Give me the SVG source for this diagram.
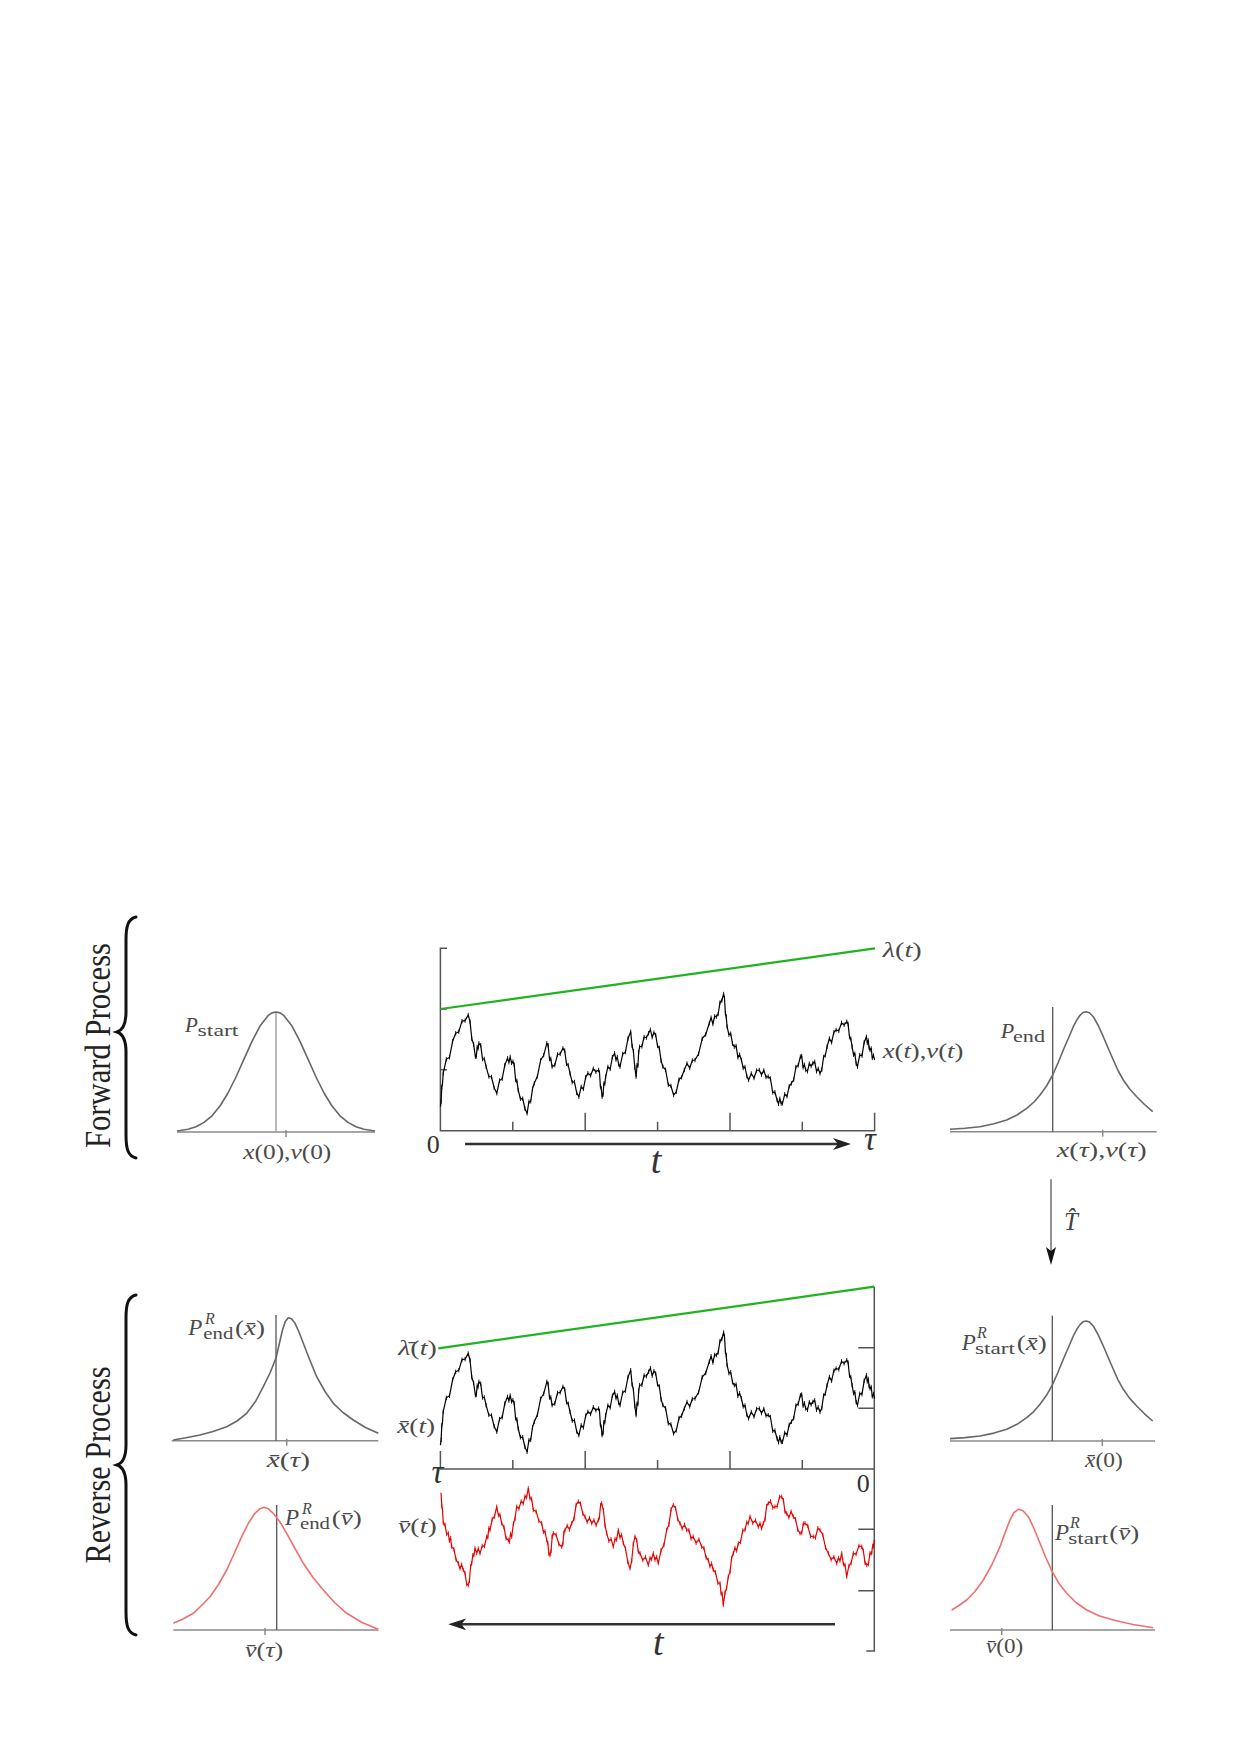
<svg xmlns="http://www.w3.org/2000/svg" width="1240" height="1754" viewBox="0 0 1240 1754">
<style>
.lab{font-family:"Liberation Serif","DejaVu Serif",serif;fill:#4a4a4a;font-size:21px}
.m{font-size:22px}
.pp{font-size:23px}
.i{font-style:italic}
.sub{font-size:17px}
.sup{font-size:16px;font-style:italic}
.big{font-family:"Liberation Serif","DejaVu Serif",serif;fill:#222;font-size:35px}
.num{font-family:"Liberation Serif","DejaVu Serif",serif;fill:#333;font-size:26px}
.tt{font-family:"Liberation Serif","DejaVu Serif",serif;fill:#333;font-size:38px;font-style:italic}
.tau{font-family:"Liberation Serif","DejaVu Serif",serif;fill:#333;font-size:33px;font-style:italic}
.that{font-family:"Liberation Serif","DejaVu Serif",serif;fill:#444;font-size:25px;font-style:italic}
.axis{fill:none;stroke:#555;stroke-width:1.5}
.base{fill:none;stroke:#8a8a8a;stroke-width:1.5}
.vl{fill:none;stroke:#555;stroke-width:1.3}
.dist{fill:none;stroke:#676767;stroke-width:1.6;stroke-linejoin:round}
.distr{fill:none;stroke:#f07070;stroke-width:1.6;stroke-linejoin:round}
.green{fill:none;stroke:#1fb41f;stroke-width:2.2}
.bm{fill:none;stroke:#000;stroke-width:1.2;stroke-linejoin:round;marker-mid:url(#hair)}
.bmr{fill:none;stroke:#e60000;stroke-width:1.2;stroke-linejoin:round;marker-mid:url(#hairr)}
.brace{fill:none;stroke:#111;stroke-width:3;stroke-linecap:round}
.arr{fill:none;stroke:#333;stroke-width:2.5}
</style>
<defs>
<marker id="ah" viewBox="0 0 18 12" refX="13" refY="6" markerWidth="18" markerHeight="12" markerUnits="userSpaceOnUse" orient="auto"><path d="M0 0 L18 6 L0 12 L5 6 Z" fill="#222"/></marker>
<marker id="ah2" viewBox="0 0 18 10" refX="13" refY="5" markerWidth="18" markerHeight="10" markerUnits="userSpaceOnUse" orient="auto"><path d="M0 0 L18 5 L0 10 L4 5 Z" fill="#111"/></marker>
<marker id="hair" viewBox="-2 -4 4 8" refX="0" refY="0" markerWidth="4" markerHeight="8" markerUnits="userSpaceOnUse" orient="0"><line x1="0" y1="-2.2" x2="0" y2="2.2" stroke="#000" stroke-width="0.9"/></marker>
<marker id="hairr" viewBox="-2 -4 4 8" refX="0" refY="0" markerWidth="4" markerHeight="8" markerUnits="userSpaceOnUse" orient="0"><line x1="0" y1="-2.2" x2="0" y2="2.2" stroke="#e60000" stroke-width="0.9"/></marker>
<path id="xpath" class="bm" d="M440.4 1106.7 L441.1 1101.4 441.8 1087 442.5 1083.7 443.2 1073.3 446.3 1059.3 449.5 1057.3 452.6 1041.3 455.7 1033.3 458.8 1031.7 462 1021.2 465.1 1020.6 468.2 1015 470 1021.4 471.8 1038.9 473.6 1044.3 475.4 1056.7 476.3 1056.4 477.2 1047 478 1048.7 478.9 1043.3 480.7 1045.2 482.5 1059 484.3 1058.9 486.1 1066.7 488.8 1076.4 491.5 1077 494.1 1087.7 496.8 1093.3 499.5 1080.6 502.2 1078.8 504.8 1065.1 507.5 1058.3 508.9 1062.2 510.2 1057 511.5 1062.9 512.9 1061.7 514.2 1064.8 515.6 1079.9 516.9 1080.9 518.2 1090 520.4 1098.8 522.7 1098.7 524.9 1108.5 527.1 1113.3 528.9 1101.8 530.7 1101.3 532.5 1088.8 534.3 1083.3 537.4 1076.3 540.6 1060.3 543.7 1055.3 546.8 1043.3 548.1 1045.2 549.5 1059 550.8 1058.9 552.1 1066.7 554.8 1065.1 557.5 1054.5 560.2 1053.9 562.9 1048.3 564.7 1050.6 566.5 1063.8 568.2 1065.1 570 1073.3 572.2 1082.2 574.5 1082 576.7 1092.9 578.9 1096.7 581.2 1086.9 583.4 1089 585.7 1077.2 587.9 1073.3 590.6 1075.5 593.3 1068.7 595.9 1071.8 598.6 1070 599.5 1072.7 600.4 1086.4 601.2 1088 602.1 1096.7 603 1094.7 603.9 1083.7 604.8 1083.7 605.7 1076.7 607.9 1066.9 610.2 1069 612.4 1057.2 614.6 1053.3 616 1059.7 617.3 1057 618.7 1064.4 620 1066.7 622.7 1054 625.4 1052.2 628 1038.5 630.7 1031.7 632.1 1046 633.4 1051.2 634.8 1067.5 636.1 1076.7 637 1065.2 637.9 1065.7 638.7 1052.2 639.6 1046.7 641.9 1046.4 644.1 1037 646.4 1037.7 648.6 1033.3 650.4 1029.7 652.2 1037.2 653.9 1032.6 655.7 1035 657.5 1045.9 659.3 1047.9 661.1 1060.8 662.9 1066.7 665.6 1069.8 668.3 1084.9 670.9 1085.9 673.6 1095 676.3 1091.8 679 1079.5 681.6 1077.3 684.3 1070 687 1063.5 689.7 1068 692.3 1060.5 695 1060 698.6 1053.8 702.2 1038.7 705.7 1034.5 709.3 1023.3 711.1 1017.7 712.9 1024 714.6 1016.4 716.4 1016.7 718.2 1014 720 1002.4 721.8 1000.7 723.6 994 724.5 998.2 725.4 1013.4 726.2 1016.5 727.1 1026.7 728.9 1034.7 730.7 1033.7 732.5 1043.7 734.3 1046.7 736.1 1046 737.9 1057.4 739.6 1054.7 741.4 1060 743.2 1068 745 1067 746.8 1076 748.6 1080 751.3 1073.5 754 1078 756.6 1070.5 759.3 1070 761.5 1074.7 763.8 1070.4 766 1077 768.2 1076.7 770.4 1078.5 772.7 1092.4 774.9 1092.2 777.1 1100 778.5 1103.8 779.8 1098.7 781.2 1103.5 782.5 1103.3 784.7 1094.3 787 1096.3 789.2 1086.3 791.4 1083.3 793.7 1079.7 795.9 1067 798.2 1065.4 800.4 1056.7 801.7 1056 803.1 1067.4 804.4 1064.7 805.7 1070 807.5 1071.3 809.3 1063.7 811.1 1066 812.9 1063.3 814.7 1061.8 816.5 1071.3 818.2 1068.8 820 1073.3 821.8 1069.7 823.6 1057 825.3 1055.4 827.1 1046.7 829.4 1038.5 831.6 1042.4 833.9 1032.2 836.1 1030 838.8 1030.9 841.5 1022.9 844.1 1024.8 846.8 1021.7 848.1 1024 849.5 1037.2 850.8 1038.5 852.1 1046.7 853.5 1054.7 854.8 1053.7 856.2 1063.7 857.5 1066.7 859.7 1055.2 862 1055.7 864.2 1042.2 866.4 1036.7 867.3 1043 868.2 1040.4 869.1 1047.7 870 1050 871.2 1048.5 872.3 1058 873.5 1055.5 874.6 1060"/>
<polyline id="skew" class="dist" points="950,1129.3 965,1128.3 980,1126.7 994,1123.8 1006.7,1120 1017,1115 1026.7,1108.3 1034,1102 1040,1095 1046.5,1086 1052.7,1075 1058,1063 1063.3,1050 1068.5,1038 1073.3,1026.7 1076.8,1020 1080,1015.3 1083,1012.5 1086,1011.7 1089.5,1012.8 1093.3,1016.7 1098,1025 1103.3,1036.7 1108.3,1048.5 1113.3,1060 1118,1070.5 1123.3,1080 1129.5,1088.8 1136.7,1096.7 1144.5,1104.5 1152.7,1111.7"/>
</defs>
<rect width="1240" height="1754" fill="#fff"/>

<g id="forward-label">
<path class="brace" d="M136 917 C128 919 126 926 126 940 L126 1012 C126 1024 123 1030 117 1032 C123 1034 126 1040 126 1052 L126 1135 C126 1149 128 1156 136 1158"/>
<text class="big" transform="translate(110,1045.5) rotate(-90)" text-anchor="middle" textLength="205" lengthAdjust="spacingAndGlyphs">Forward Process</text>
</g>

<g id="reverse-label">
<path class="brace" d="M136 1295 C128 1297 126 1304 126 1318 L126 1445 C126 1457 123 1463 117 1465 C123 1467 126 1473 126 1485 L126 1612 C126 1626 128 1633 136 1635"/>
<text class="big" transform="translate(110,1465) rotate(-90)" text-anchor="middle" textLength="197" lengthAdjust="spacingAndGlyphs">Reverse Process</text>
</g>

<g id="p-start">
<line class="base" x1="177" y1="1132" x2="375" y2="1132"/>
<line class="base" x1="286" y1="1130" x2="286" y2="1137"/>
<line x1="276" y1="1011.7" x2="276" y2="1132" stroke="#a8a8a8" stroke-width="1.6"/>
<polyline class="dist" points="177,1131 188,1129.3 196,1126.7 204,1122.4 212,1115.8 220,1106 228,1093 236,1077 244,1059.2 252,1041.4 260,1026.1 268,1015.7 272,1012.9 276,1012 280,1012.9 284,1015.7 292,1026.1 300,1041.4 308,1059.2 316,1077 324,1093 332,1106 340,1115.8 348,1122.4 356,1126.7 364,1129.3 375,1131"/>
<text class="lab i" x="185" y="1032">P</text>
<text class="lab sub" x="197.5" y="1035.5" textLength="41" lengthAdjust="spacingAndGlyphs">start</text>
<text class="lab m" x="243.3" y="1159" textLength="88" lengthAdjust="spacingAndGlyphs"><tspan class="i">x</tspan>(0),<tspan class="i">v</tspan>(0)</text>
</g>

<g id="forward-plot">
<path class="axis" d="M447 948.3 H440.4 V1130.7 H874.6 V1112.7"/>
<path class="axis" d="M440.4 1009 H447 M440.4 1069.7 H447 M512.8 1130.7 V1121.7 M585.2 1130.7 V1112.7 M657.6 1130.7 V1121.7 M730 1130.7 V1112.7 M802.3 1130.7 V1121.7"/>
<line class="green" x1="440.4" y1="1009" x2="875" y2="948.3"/>
<use href="#xpath"/>
<text class="lab m" x="882.7" y="956.7" textLength="39" lengthAdjust="spacingAndGlyphs"><tspan class="i">λ</tspan>(<tspan class="i">t</tspan>)</text>
<text class="lab m" x="882.7" y="1058.3" textLength="80.7" lengthAdjust="spacingAndGlyphs"><tspan class="i">x</tspan>(<tspan class="i">t</tspan>),<tspan class="i">v</tspan>(<tspan class="i">t</tspan>)</text>
<text class="num" x="426.7" y="1152.7">0</text>
<text class="tau" x="864" y="1149.5">τ</text>
<line class="arr" x1="465" y1="1144" x2="846" y2="1144" marker-end="url(#ah)"/>
<text class="tt" x="656" y="1173" text-anchor="middle">t</text>
</g>

<g id="p-end">
<line class="base" x1="950" y1="1131.7" x2="1156.7" y2="1131.7"/>
<line class="base" x1="1102.7" y1="1129.7" x2="1102.7" y2="1136.7"/>
<line class="vl" x1="1052.7" y1="1007" x2="1052.7" y2="1131.7"/>
<use href="#skew"/>
<text class="lab i m" x="1000.7" y="1038.3">P</text>
<text class="lab sub" x="1013" y="1041.5" textLength="32" lengthAdjust="spacingAndGlyphs">end</text>
<text class="lab m" x="1056.7" y="1156.7" textLength="90" lengthAdjust="spacingAndGlyphs"><tspan class="i">x</tspan>(<tspan class="i">τ</tspan>),<tspan class="i">v</tspan>(<tspan class="i">τ</tspan>)</text>
</g>

<g id="connectors">
<line x1="1051" y1="1179.3" x2="1051" y2="1260" stroke="#777" stroke-width="1.6" marker-end="url(#ah2)"/>
<text class="that" x="1064" y="1230">T&#x302;</text>
</g>

<g id="reverse-plot">
<path class="axis" d="M440.4 1451 V1469 H874.3 M874.3 1286.7 V1651 H866.3"/>
<path class="axis" d="M512.8 1469 V1460 M585.2 1469 V1451 M657.6 1469 V1460 M730 1469 V1451 M802.3 1469 V1460 M874.3 1347.7 H858.3 M874.3 1408.3 H858.3 M874.3 1529.3 H858.3 M874.3 1590.7 H858.3"/>
<line class="green" x1="438.3" y1="1348.3" x2="874.3" y2="1286.7"/>
<use href="#xpath" transform="translate(0,338.5)"/>
<path class="bmr" d="M441 1492.7 L441.8 1505.9 442.5 1510.1 443.3 1523.3 445 1524.6 446.6 1534 448.3 1533.3 449.4 1540.8 450.6 1538.2 451.7 1546.7 453.9 1549.2 456.1 1559.8 458.3 1563.3 460 1568.5 461.6 1564.8 463.3 1570 465 1573 466.6 1584 468.3 1585 469.4 1580.8 470.6 1566.5 471.7 1563.3 472.8 1555.3 473.9 1555.3 475 1548.3 476.7 1553 478.3 1548.6 480 1553.3 482.2 1545.8 484.5 1546.2 486.7 1536.7 487.8 1537.5 488.9 1528.2 490 1530 492.2 1519.2 494.5 1516.5 496.7 1506.7 498.4 1515.2 500 1514.8 501.7 1523.3 503.9 1526.9 506.1 1538.4 508.3 1540 509.4 1541.9 510.6 1533.8 511.7 1536.7 513.4 1523.7 515 1518.7 516.7 1506.7 518.9 1508.6 521.1 1501.4 523.3 1503.3 525 1496.3 526.6 1497.3 528.3 1488.3 530 1498.5 531.6 1498.8 533.3 1510 536.1 1511.4 538.9 1520.9 541.7 1523.3 543.4 1531.9 545 1531.4 546.7 1540 547.8 1543 548.9 1554 550 1555 551.1 1550.8 552.2 1536.5 553.3 1533.3 556.1 1534.8 558.9 1544.2 561.7 1546.7 562.8 1544.1 563.9 1532.6 565 1530 567.2 1525.8 569.5 1529.5 571.7 1523.3 573.9 1519.1 576.1 1504.9 578.3 1501.7 580.5 1503.7 582.8 1513.7 585 1516.7 587.2 1521.9 589.5 1518.1 591.7 1523.3 593.9 1520.2 596.1 1525.1 598.3 1520 599.4 1517.4 600.6 1504.9 601.7 1503.3 603.4 1510.3 605 1525.3 606.7 1533.3 608.9 1540.8 611.1 1539.2 613.3 1546.7 615 1539.1 616.6 1539.6 618.3 1530 620 1537.4 621.6 1534.9 623.3 1543.3 625.5 1548.6 627.8 1562 630 1568.3 631.7 1560.8 633.3 1544.2 635 1536.7 636.7 1540.2 638.3 1551.8 640 1553.3 642.8 1560.2 645.5 1557.1 648.3 1565 650 1558.1 651.6 1559.2 653.3 1553.3 655 1559.6 656.6 1557 658.3 1563.3 661.1 1550.2 663.9 1545.1 666.7 1530 668.9 1524.7 671.1 1509.3 673.3 1505 675.5 1508.1 677.8 1519.2 680 1523.3 682.2 1528.5 684.5 1524.8 686.7 1530 688.9 1530.2 691.1 1538.5 693.3 1536.7 696.1 1543 698.9 1539.4 701.7 1546.7 703.9 1548.1 706.1 1557.6 708.3 1560 710 1566.3 711.6 1563.7 713.3 1570 715.5 1572.4 717.8 1582.9 720 1583.3 721.1 1593.5 722.2 1593.8 723.3 1605 725 1592.6 726.6 1588.1 728.3 1576.7 730 1571.9 731.6 1558.1 733.3 1553.3 735 1548 736.6 1550.6 738.3 1543.3 740.5 1541.9 742.8 1530.4 745 1530 746.7 1522.6 748.3 1523.1 750 1516.7 752.8 1523 755.5 1520.4 758.3 1526.7 760 1523.6 761.6 1528.4 763.3 1523.3 765 1519.6 766.6 1506 768.3 1503.3 770.5 1501.4 772.8 1507.6 775 1506.7 777.2 1506.4 779.5 1497 781.7 1496.7 783.4 1500.2 785 1511.8 786.7 1513.3 788.9 1517.4 791.1 1511.6 793.3 1516.7 795.5 1519.2 797.8 1529.8 800 1533.3 801.7 1533 803.3 1523.6 805 1523.3 807.8 1525.8 810.5 1536.2 813.3 1536.7 815.5 1537.5 817.8 1528.2 820 1530 822.8 1534.8 825.5 1547.5 828.3 1553.3 831.1 1559.6 833.9 1557 836.7 1563.3 838.4 1558 840 1560.6 841.7 1553.3 843.4 1564.1 845 1564.9 846.7 1576.7 848.9 1565.9 851.1 1563.1 853.3 1553.3 856.1 1554.1 858.9 1545.9 861.7 1546.7 863.4 1550.8 865 1562.9 866.7 1565 868.4 1564.1 870 1553.2 871.7 1553.3 872.6 1545.9 873.4 1546.5 874.3 1540"/>
<text class="lab m" x="398.3" y="1355" textLength="38.4" lengthAdjust="spacingAndGlyphs"><tspan class="i">λ̄</tspan>(<tspan class="i">t</tspan>)</text>
<text class="lab m" x="397.3" y="1433.3" textLength="37.7" lengthAdjust="spacingAndGlyphs"><tspan class="i">x̄</tspan>(<tspan class="i">t</tspan>)</text>
<text class="lab m" x="398" y="1533.3" textLength="38.7" lengthAdjust="spacingAndGlyphs"><tspan class="i">v̄</tspan>(<tspan class="i">t</tspan>)</text>
<text class="tau" x="431.5" y="1483">τ</text>
<text class="num" x="856.7" y="1491.7">0</text>
<line class="arr" x1="835" y1="1624.3" x2="453.3" y2="1624.3" marker-end="url(#ah)"/>
<text class="tt" x="658.3" y="1655" text-anchor="middle">t</text>
</g>

<g id="pr-end-x">
<line class="base" x1="171.7" y1="1440.7" x2="378.3" y2="1440.7"/>
<line class="base" x1="286.7" y1="1438.7" x2="286.7" y2="1445.7"/>
<line class="vl" x1="276" y1="1315" x2="276" y2="1440.7"/>
<polyline class="dist" points="173.3,1440 186,1437.8 200,1435 213,1431.5 226.7,1426.7 237,1421 246.7,1413.3 255.5,1401.5 263.3,1386.7 270,1373 276,1358 279.5,1343 282.5,1330 285.3,1321.5 288.3,1317.7 291.5,1318.8 295,1323.3 299,1332 303.3,1343.3 310,1360.5 316.7,1376.7 325,1391.5 333.3,1403.3 343,1412.5 353.3,1420 365.5,1427.5 378.3,1433.3"/>
<text class="lab i pp" x="188.3" y="1335">P</text>
<text class="lab sup" x="205" y="1324">R</text>
<text class="lab sub" x="203.3" y="1339" textLength="30" lengthAdjust="spacingAndGlyphs">end</text>
<text class="lab m" x="235" y="1335" textLength="30" lengthAdjust="spacingAndGlyphs">(<tspan class="i">x̄</tspan>)</text>
<text class="lab m" x="266.7" y="1466.7" textLength="43.3" lengthAdjust="spacingAndGlyphs"><tspan class="i">x̄</tspan>(<tspan class="i">τ</tspan>)</text>
</g>

<g id="pr-end-v">
<line class="base" x1="173.3" y1="1630" x2="378.3" y2="1630"/>
<line class="base" x1="265" y1="1628" x2="265" y2="1635"/>
<line class="vl" x1="276.7" y1="1505" x2="276.7" y2="1630"/>
<polyline class="distr" points="173.3,1623.3 183,1619 193.3,1613.3 201.5,1605.5 210,1596.7 218.5,1584.5 226.7,1570 234,1554 241.7,1536.7 248.5,1523 255,1513.3 259.5,1509 264,1507.3 268.5,1508.8 273.3,1513.3 280,1522 286.7,1533.3 295,1548.5 303.3,1563.3 313,1577.5 323.3,1590 334.5,1602.5 346.7,1613.3 362,1622.5 378.3,1629.3"/>
<text class="lab i pp" x="285" y="1525">P</text>
<text class="lab sup" x="302" y="1514">R</text>
<text class="lab sub" x="300" y="1529" textLength="30" lengthAdjust="spacingAndGlyphs">end</text>
<text class="lab m" x="331.7" y="1525" textLength="30" lengthAdjust="spacingAndGlyphs">(<tspan class="i">v̄</tspan>)</text>
<text class="lab m" x="245" y="1656.7" textLength="38.3" lengthAdjust="spacingAndGlyphs"><tspan class="i">v̄</tspan>(<tspan class="i">τ</tspan>)</text>
</g>

<g id="pr-start-x">
<g transform="translate(0,309.3)">
<line class="base" x1="950" y1="1131.7" x2="1155" y2="1131.7"/>
<line class="base" x1="1102.3" y1="1129.7" x2="1102.3" y2="1136.7"/>
<line class="vl" x1="1052.3" y1="1006.5" x2="1052.3" y2="1131.7"/>
<use href="#skew"/>
</g>
<text class="lab i pp" x="961.7" y="1350">P</text>
<text class="lab sup" x="977" y="1338">R</text>
<text class="lab sub" x="975" y="1353.5" textLength="40" lengthAdjust="spacingAndGlyphs">start</text>
<text class="lab m" x="1016.7" y="1350" textLength="30" lengthAdjust="spacingAndGlyphs">(<tspan class="i">x̄</tspan>)</text>
<text class="lab m" x="1085" y="1466.7" textLength="37.7" lengthAdjust="spacingAndGlyphs"><tspan class="i">x̄</tspan>(0)</text>
</g>

<g id="pr-start-v">
<line class="base" x1="950" y1="1630" x2="1155" y2="1630"/>
<line class="base" x1="1001.7" y1="1628" x2="1001.7" y2="1635"/>
<line class="vl" x1="1052.3" y1="1505" x2="1052.3" y2="1630"/>
<polyline class="distr" points="951.7,1610 959,1605.5 966.7,1600 975,1591.5 983.3,1580 992,1564.5 1000,1546.7 1005,1533 1010,1520 1014,1512.5 1018.3,1509.3 1023,1510.8 1028.3,1516.7 1034,1528.5 1040,1543.3 1046,1558 1052.3,1571.7 1059,1583.5 1066.7,1593.3 1076,1602.5 1086.7,1610 1099,1615.8 1113.3,1620 1133,1624.5 1153.3,1627.7"/>
<text class="lab i pp" x="1055" y="1540">P</text>
<text class="lab sup" x="1070" y="1528">R</text>
<text class="lab sub" x="1068.3" y="1543.5" textLength="40" lengthAdjust="spacingAndGlyphs">start</text>
<text class="lab m" x="1109.3" y="1540" textLength="30" lengthAdjust="spacingAndGlyphs">(<tspan class="i">v̄</tspan>)</text>
<text class="lab m" x="986" y="1653.3" textLength="37.3" lengthAdjust="spacingAndGlyphs"><tspan class="i">v̄</tspan>(0)</text>
</g>
</svg>
